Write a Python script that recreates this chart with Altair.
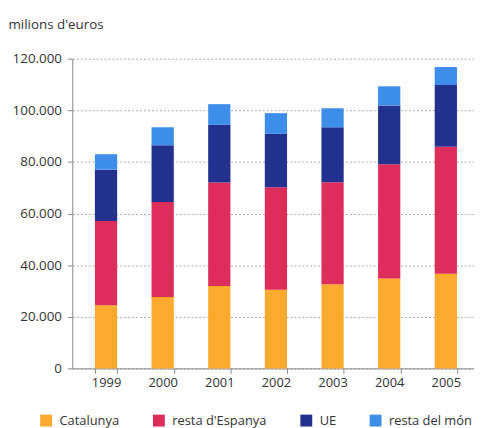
import altair as alt
import pandas as pd

years = ["1999", "2000", "2001", "2002", "2003", "2004", "2005"]
series = ["Catalunya", "resta d'Espanya", "UE", "resta del món"]
catalunya = [24500, 27700, 31900, 30500, 32600, 34800, 36700]
resta_espanya = [32600, 36800, 40100, 39700, 39500, 44300, 49200]
ue = [19900, 22000, 22400, 20700, 21300, 22800, 23900]
resta_mon = [6000, 6900, 8000, 8000, 7400, 7400, 7000]
colors = ["#FBAA2E", "#DC2D5B", "#22318E", "#3C8EE9"]

rows = []
for i, y in enumerate(years):
    for k, (name, vals) in enumerate(zip(series, [catalunya, resta_espanya, ue, resta_mon])):
        rows.append({"any": y, "origen": name, "valor": vals[i], "ordre": k})
df = pd.DataFrame(rows)

font = "Open Sans"

chart = alt.Chart(df).mark_bar().encode(
    x=alt.X("any:N", sort=years,
            scale=alt.Scale(paddingInner=0.607, paddingOuter=0.35, align=0.57),
            axis=alt.Axis(title=None, labelAngle=0, tickBand="extent", grid=False,
                          tickSize=5, labelPadding=3, labelFontSize=13, labelFont=font,
                          labelColor="#333333", domainColor="#888888", tickColor="#888888")),
    y=alt.Y("valor:Q", stack="zero",
            scale=alt.Scale(domain=[0, 120000], nice=False),
            axis=alt.Axis(values=[0, 20000, 40000, 60000, 80000, 100000, 120000],
                          labelExpr="replace(format(datum.value, ','), ',', '.')",
                          title="milions d'euros", titleAngle=0, titleAlign="left",
                          titleBaseline="alphabetic", titleX=-65, titleY=-31,
                          titleFontSize=13.5, titleFontWeight="normal", titleFont=font,
                          titleColor="#333333",
                          labelFontSize=13.5, labelFont=font, labelColor="#333333",
                          labelPadding=6, tickSize=5, tickColor="#888888",
                          domainColor="#888888", gridColor="#aaaaaa",
                          gridDash=[2, 2], gridWidth=1)),
    color=alt.Color("origen:N", sort=series,
                    scale=alt.Scale(domain=series, range=colors),
                    legend=alt.Legend(title=None, orient="none", legendX=-33, legendY=359,
                                      direction="horizontal", symbolType="square",
                                      symbolSize=144, symbolStrokeWidth=0,
                                      labelFontSize=13, labelFont=font, labelColor="#333333",
                                      labelOffset=7, columnPadding=33)),
    order=alt.Order("ordre:Q", sort="ascending"),
).properties(
    width=406, height=313,
    padding={"left": 0, "top": 7, "right": 0, "bottom": 0},
    background="white",
).configure_view(stroke=None)

chart.save("out.html", embed_options={"renderer": "svg", "actions": False})
